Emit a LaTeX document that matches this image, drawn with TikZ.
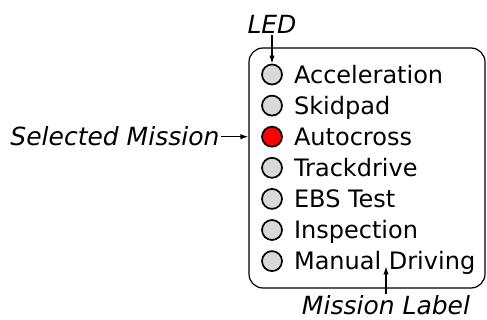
\documentclass[tikz,border=0pt]{standalone}
\usepackage{fontspec}
\setmainfont{DejaVu Sans}
\usetikzlibrary{arrows.meta,positioning,fit}

\begin{document}
\begin{tikzpicture}[
  x=1pt, y=-1pt,
  led/.style={circle, draw, line width=1.7pt, fill=gray!30, minimum size=20pt, inner sep=0pt},
  mission/.style={inner sep=0pt, text height=17.5pt, text depth=0pt,
                  font=\fontsize{24}{28}\selectfont},
  note/.style={inner sep=0pt, outer sep=2pt, text height=18.2pt, text depth=0pt,
               font=\fontsize{25}{29}\selectfont\itshape},
  panel/.style={draw, line width=1.2pt, rounded corners=14pt, inner sep=0pt},
  arr/.style={-{Latex[length=8pt,width=5.5pt]}, line width=1.3pt},
  node distance=9.4pt
]
\useasboundingbox (0,0) rectangle (487,320);

% mission panel
\coordinate (pnw) at (249,48);
\coordinate (pse) at (485,288);
\node[panel, fit=(pnw)(pse)] (panel) {};

% LEDs
\node[led] (accel) at (272,74.5) {};
\node[led, below=of accel] (skid) {};
\node[led, below=of skid, fill=red] (auto) {};
\node[led, below=of auto] (track) {};
\node[led, below=of track] (ebs) {};
\node[led, below=of ebs] (insp) {};
\node[led, below=of insp] (manual) {};

% mission labels
\node[mission, right=11pt of accel] (accellbl) {Acceleration};
\node[mission, right=11pt of skid] (skidlbl) {Skidpad};
\node[mission, right=11pt of auto] (autolbl) {Autocross};
\node[mission, right=11pt of track] (tracklbl) {Trackdrive};
\node[mission, right=11pt of ebs] (ebslbl) {EBS Test};
\node[mission, right=11pt of insp] (insplbl) {Inspection};
\node[mission, right=11pt of manual] (manuallbl) {Manual Driving};

% annotations
\node[note, above=28.5pt of accel] (ledlbl) {LED};
\draw[arr] (ledlbl) -- (accel);

\coordinate (selpt) at (panel.west |- auto);
\node[note, left=27pt of selpt] (selmsn) {Selected Mission};
\draw[arr] (selmsn) -- (selpt);

\node[note] (msnlbl) at (386,305.5) {Mission Label};
\coordinate[above=28pt of msnlbl.north] (lblpt);
\draw[arr] (msnlbl.north) -- (lblpt);
\end{tikzpicture}
\end{document}
